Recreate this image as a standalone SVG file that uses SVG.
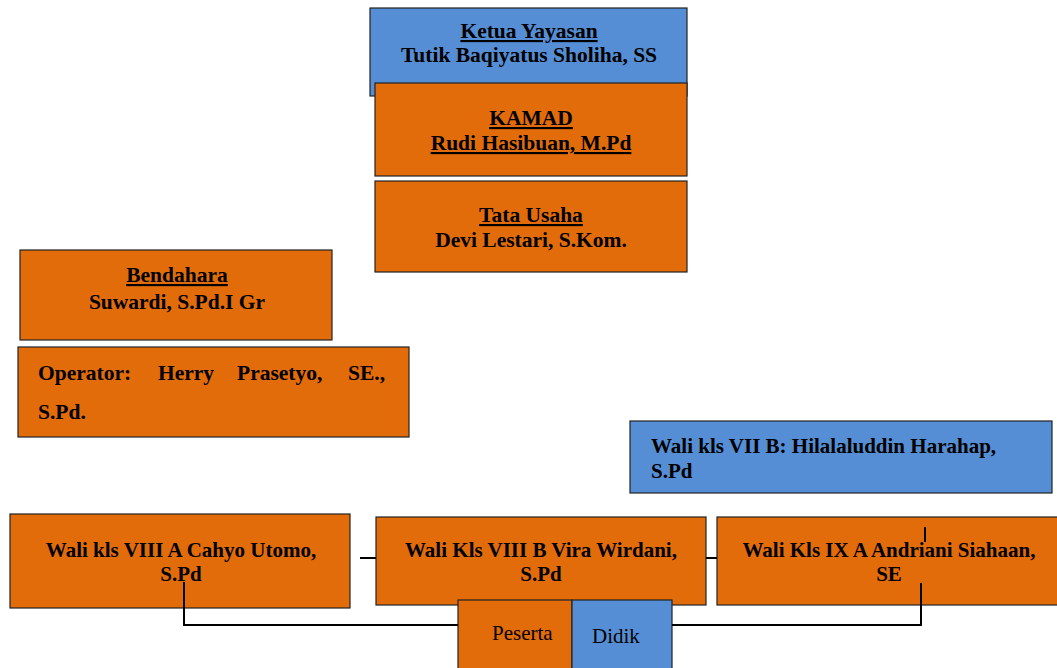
<svg xmlns="http://www.w3.org/2000/svg" width="1057" height="668" viewBox="0 0 1057 668">
<style>
.o{fill:#E36C0A;stroke:#222;stroke-width:1.2}
.b{fill:#558ED5;stroke:#222;stroke-width:1.2}
.t{font-family:"Liberation Serif","Times New Roman",serif;font-weight:bold;font-size:21.5px;fill:#000;text-anchor:middle}
.l{text-anchor:start}
.s{font-family:"Liberation Serif","Times New Roman",serif;font-weight:bold;font-size:21px;fill:#000}
.m{text-anchor:middle}
.r{font-family:"Liberation Serif","Times New Roman",serif;font-size:21px;fill:#000}
.u{text-decoration:underline}
.c{fill:none;stroke:#000;stroke-width:2}
</style>
<rect width="1057" height="668" fill="#fff"/>
<g id="ketua">
<rect class="b" x="370" y="8" width="317" height="88"/>
<text class="t u" x="529" y="38">Ketua Yayasan</text>
<text class="t" x="529" y="62">Tutik Baqiyatus Sholiha, SS</text>
</g>
<g id="kamad">
<rect class="o" x="375" y="83" width="312" height="93"/>
<text class="t u" x="531" y="125">KAMAD</text>
<text class="t u" x="531" y="150">Rudi Hasibuan, M.Pd</text>
</g>
<g id="tatausaha">
<rect class="o" x="375" y="181" width="312" height="91"/>
<text class="t u" x="531" y="222">Tata Usaha</text>
<text class="t" x="531" y="247">Devi Lestari, S.Kom.</text>
</g>
<g id="bendahara">
<rect class="o" x="20" y="250" width="312" height="90"/>
<text class="t u" x="177" y="282">Bendahara</text>
<text class="t" x="177" y="309">Suwardi, S.Pd.I Gr</text>
</g>
<g id="operator">
<rect class="o" x="18" y="347" width="391" height="90"/>
<text class="t l" y="380"><tspan x="38">Operator:</tspan><tspan x="158">Herry</tspan><tspan x="237">Prasetyo,</tspan><tspan x="348">SE.,</tspan></text>
<text class="t l" x="38" y="419">S.Pd.</text>
</g>
<g id="walivii-b">
<rect class="b" x="630" y="421" width="422" height="72"/>
<text class="s" x="651" y="453">Wali kls VII B: Hilalaluddin Harahap,</text>
<text class="s" x="651" y="478">S.Pd</text>
</g>
<g id="waliviii-a">
<rect class="o" x="10" y="514" width="340" height="94"/>
<text class="s m" x="181" y="557">Wali kls VIII A Cahyo Utomo,</text>
<text class="s m" x="181" y="581">S.Pd</text>
</g>
<g id="waliviii-b">
<rect class="o" x="376" y="517" width="330" height="88"/>
<text class="s m" x="541" y="557">Wali Kls VIII B Vira Wirdani,</text>
<text class="s m" x="541" y="581">S.Pd</text>
</g>
<g id="waliix-a">
<rect class="o" x="717" y="517" width="345" height="88"/>
<text class="s m" x="889" y="557">Wali Kls IX A Andriani Siahaan,</text>
<text class="s m" x="889" y="581">SE</text>
</g>
<g id="peserta-didik">
<rect class="o" x="458" y="600" width="114" height="70"/>
<rect class="b" x="572" y="600" width="100" height="70"/>
<text class="r" x="492" y="640">Peserta</text>
<text class="r" x="592" y="643">Didik</text>
</g>
<g id="connectors">
<line class="c" x1="360" y1="558" x2="376" y2="558"/>
<line class="c" x1="706" y1="558" x2="717" y2="558"/>
<polyline class="c" points="184,582 184,625 458,625"/>
<polyline class="c" points="672,625 921,625 921,583"/>
<line class="c" x1="925" y1="527" x2="925" y2="542" stroke-width="1.5"/>
</g>
</svg>
